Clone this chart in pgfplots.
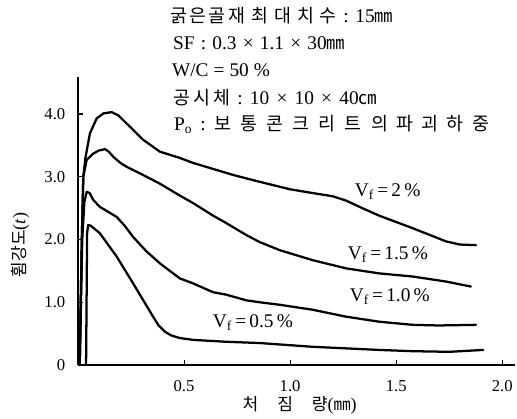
\documentclass[border=0pt]{standalone}
\usepackage{fontspec}
\setmainfont{Liberation Serif}
\newfontfamily\kr[Scale=0.95]{Noto Sans CJK KR}
\newcommand{\kw}[2]{\makebox[#1][s]{\kr #2}}
\usepackage{pgfplots}
\pgfplotsset{compat=1.18}
\begin{document}
\begin{tikzpicture}
\begin{axis}[
 at={(0,0)}, anchor=south west,
 scale only axis, width=327.75pt, height=216pt,
 xmin=0, xmax=2.06, ymin=0, ymax=4.59,
 axis lines=left, axis line style={-, line width=0.8pt},
 tick align=inside, major tick length=4pt, tick style={line width=0.8pt, black},
 xtick={0.5,1,1.5,2}, xticklabels={0.5,1.0,1.5,2.0},
 ytick={0,1,2,3,4}, yticklabels={0,1.0,2.0,3.0,4.0},
 ticklabel style={font=\fontsize{12.5}{14}\selectfont},
 xticklabel style={yshift=-8pt},
 yticklabel style={xshift=-6pt},
 clip=false,
 crv/.style={black, line width=1.7pt, line join=round, line cap=round, mark=none},
]
% V_f = 2%
\addplot[crv] coordinates {(0.008,0) (0.018,2.0) (0.025,3.0) (0.035,3.3) (0.056,3.69) (0.088,3.93) (0.12,4.01) (0.158,4.03) (0.19,3.98) (0.229,3.85) (0.307,3.59) (0.386,3.40) (0.48,3.30) (0.543,3.22) (0.73,3.03) (0.856,2.92) (1.0,2.80) (1.107,2.74) (1.2,2.69) (1.264,2.62) (1.34,2.50) (1.42,2.38) (1.578,2.18) (1.735,1.97) (1.80,1.92) (1.876,1.91)};
% V_f = 1.5%
\addplot[crv] coordinates {(0.008,0) (0.018,2.0) (0.025,3.0) (0.041,3.27) (0.072,3.37) (0.1,3.42) (0.127,3.44) (0.145,3.40) (0.166,3.32) (0.2,3.22) (0.229,3.16) (0.3,3.04) (0.386,2.89) (0.48,2.70) (0.543,2.58) (0.637,2.38) (0.7,2.26) (0.794,2.07) (0.856,1.96) (0.951,1.83) (1.107,1.67) (1.264,1.54) (1.42,1.46) (1.578,1.41) (1.735,1.33) (1.852,1.25)};
% V_f = 1.0%
\addplot[crv] coordinates {(0.008,0) (0.02,2.0) (0.03,2.6) (0.041,2.76) (0.055,2.74) (0.072,2.63) (0.103,2.52) (0.182,2.36) (0.22,2.22) (0.26,2.04) (0.32,1.82) (0.386,1.62) (0.48,1.38) (0.543,1.30) (0.637,1.16) (0.7,1.12) (0.794,1.03) (0.856,1.00) (0.951,0.96) (1.107,0.88) (1.264,0.77) (1.42,0.69) (1.578,0.64) (1.7,0.63) (1.876,0.64)};
% V_f = 0.5%
\addplot[crv] coordinates {(0.038,0) (0.043,2.1) (0.048,2.23) (0.06,2.22) (0.103,2.10) (0.182,1.73) (0.26,1.30) (0.354,0.77) (0.38,0.63) (0.41,0.53) (0.44,0.47) (0.48,0.43) (0.543,0.40) (0.7,0.37) (0.856,0.35) (1.107,0.29) (1.42,0.24) (1.578,0.22) (1.75,0.21) (1.91,0.24)};

\begin{scope}[every node/.style={anchor=west, inner sep=0pt, font=\fontsize{14.5}{16}\selectfont}]
\node at (axis cs:0.433,5.57) {\makebox[167.25pt][s]{\kw{56.25pt}{굵\hfil 은\hfil 골\hfil 재}\hfil\kw{63.75pt}{최\hfil 대\hfil 치\hfil 수}\hfil:\hfil 15{\kr ㎜}}};
\node at (axis cs:0.447,5.13) {\makebox[129pt][s]{SF\hfil:\hfil 0.3\hfil×\hfil 1.1\hfil×\hfil 30{\kr ㎜}}};
\node at (axis cs:0.442,4.70) {\makebox[73.5pt][s]{W/C\hfil=\hfil 50\hfil\%}};
\node at (axis cs:0.447,4.26) {\makebox[153pt][s]{\kw{42.75pt}{공\hfil 시\hfil 체}\hfil:\hfil 10\hfil×\hfil 10\hfil×\hfil 40{\kr ㎝}}};
\node at (axis cs:0.452,3.83) {\makebox[236.25pt][s]{P\textsubscript{o}\hfil:\hfil\kw{130.5pt}{보\hfil 통\hfil 콘\hfil 크\hfil 리\hfil 트\hfil 의}\hfil\kw{69.75pt}{파\hfil 괴\hfil 하\hfil 중}}};
\node at (axis cs:1.304,2.757) {V\textsubscript{f}\,=\,2\,\%};
\node at (axis cs:1.271,1.753) {V\textsubscript{f}\,=\,1.5\,\%};
\node at (axis cs:1.28,1.084) {V\textsubscript{f}\,=\,1.0\,\%};
\node at (axis cs:0.635,0.669) {V\textsubscript{f}\,=\,0.5\,\%};
\end{scope}
\node[rotate=90, inner sep=0pt, font=\fontsize{13.5}{15}\selectfont] at (axis cs:-0.273,1.91) {{\kr 휨강도}(\textit{t})};
\node[inner sep=0pt, font=\fontsize{13.5}{15}\selectfont] at (axis cs:1.045,-0.637) {\makebox[85.5pt][s]{\kr 처\hfil 짐\hfil 량\rmfamily(\kr ㎜\rmfamily)}};
\end{axis}
\pgfresetboundingbox
\path[use as bounding box] (-58.5pt,-39.75pt) rectangle (329.25pt,273.75pt);
\end{tikzpicture}
\end{document}
